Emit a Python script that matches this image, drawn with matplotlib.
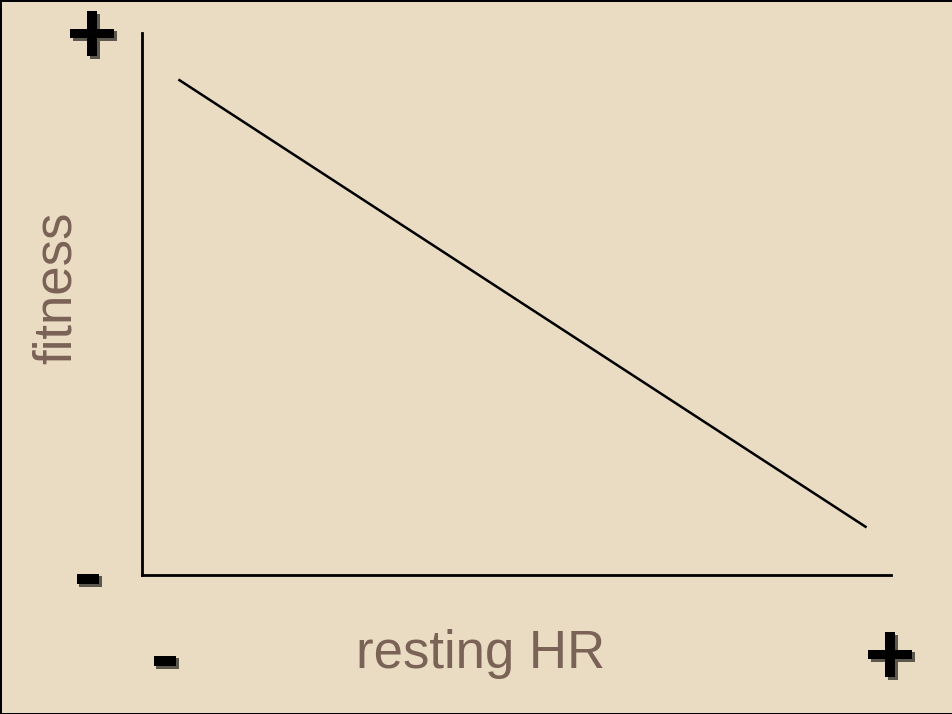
import matplotlib
matplotlib.use("Agg")
import matplotlib.pyplot as plt
import matplotlib.patheffects as pe

# sketch: fitness falls as resting heart rate rises
hr = [0.05, 0.966]
fitness = [0.913, 0.089]
x_label = "resting HR"
y_label = "fitness"

bg = "#E9DCC3"
txt = "#7B6256"

fig = plt.figure(figsize=(9.53, 7.14), dpi=100, facecolor=bg,
                 edgecolor="black", linewidth=2)
ax = fig.add_axes([142/953, 1 - 575/714, 749/953, 542/714])
ax.set_facecolor(bg)
ax.plot(hr, fitness, color="black", lw=1.8)
ax.set_xlim(0, 1)
ax.set_ylim(0, 1)
for s in ["top", "right"]:
    ax.spines[s].set_visible(False)
for s in ["left", "bottom"]:
    ax.spines[s].set_linewidth(2)
ax.set_xticks([])
ax.set_yticks([])

fig.text(481/953, 1 - 654/714, x_label, color=txt, fontsize=38,
         family="Liberation Sans", ha="center", va="center")
fig.text(57/953, 1 - 288/714, y_label, color=txt, fontsize=38,
         family="Liberation Sans", ha="center", va="center", rotation=90)

shadow = [pe.SimplePatchShadow(offset=(2, -2), shadow_rgbFace="black", alpha=0.6),
          pe.Normal()]
signs = [("+", 92, 40), ("-", 88, 579), ("-", 165, 661), ("+", 890, 661)]
for s, px, py in signs:
    fig.text(px/953, 1 - py/714, s, color="black", fontsize=64, weight="bold",
             family="Liberation Sans", ha="center", va="center",
             path_effects=shadow)

fig.savefig("out.png", dpi=100, facecolor=bg, edgecolor="black")
